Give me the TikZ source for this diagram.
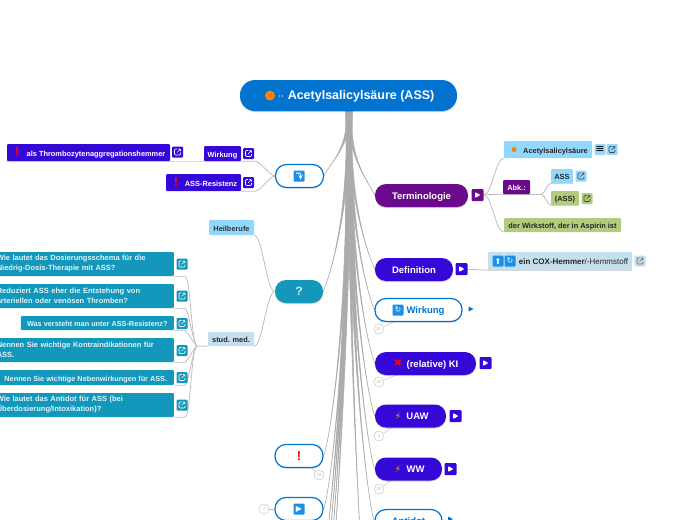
\documentclass[tikz,border=0pt]{standalone}
\usepackage{fontspec}
\setmainfont{Liberation Sans}
\newfontfamily\symfont{DejaVu Sans}
\usetikzlibrary{calc,backgrounds,shadows}
\definecolor{rootblue}{HTML}{0274D0}
\definecolor{indigo}{HTML}{3608D8}
\definecolor{teal}{HTML}{1398BC}
\definecolor{plum}{HTML}{6C0A8E}
\definecolor{sky}{HTML}{92D8FD}
\definecolor{olive}{HTML}{B2CB7E}
\definecolor{pale}{HTML}{C5DFEE}
\definecolor{emoji}{HTML}{1B90E6}
\definecolor{limbgrey}{HTML}{ABABAB}
\definecolor{twiggrey}{HTML}{BDBDBD}
\tikzset{
	topic/.style={rounded corners=11pt,minimum height=23pt,inner sep=0,text height=.72em,text depth=0pt,font=\bfseries\fontsize{9.5}{11}\selectfont,text=white,
		general shadow={fill=black,opacity=.18,shadow yshift=-1pt}},
	ring/.style={topic,draw=rootblue,line width=1.2pt,fill=white,text=rootblue},
	leaf/.style={rounded corners=1pt,inner sep=0,text height=.72em,text depth=0pt,font=\bfseries\fontsize{7.4}{8}\selectfont},
	ask/.style={rounded corners=1pt,fill=teal,text=white!88!teal,anchor=east,align=left,inner xsep=4pt,inner ysep=0,minimum height=24pt,text width=173pt,font=\bfseries\fontsize{7.5}{10}\selectfont},
	askline/.style={leaf,fill=teal,text=white!88!teal,anchor=east,font=\bfseries\fontsize{7.3}{8}\selectfont},
	linkbox/.style={rounded corners=1pt,minimum size=11pt,inner sep=0,path picture={
		\draw[#1,line width=.6pt,shift={(path picture bounding box.center)}] (-.5,-3) -- (-3,-3) -- (-3,3) -- (3,3) -- (3,.5) (-.5,.5) -- (3,-3) (.8,-3) -- (3,-3) -- (3,-.8);}},
	linkbox/.default=white,
	playbox/.style={rounded corners=1pt,minimum size=12pt,inner sep=0,path picture={
		\fill[white,shift={(path picture bounding box.center)}] (-2.5,-3) -- (3,0) -- (-2.5,3) -- cycle;}},
	emojibox/.style={rounded corners=1pt,fill=emoji,minimum size=11pt,inner sep=0,text=white,font=\symfont\fontsize{8}{8}\selectfont},
	badge/.style={circle,draw=twiggrey,line width=.4pt,fill=white,minimum size=10pt,inner sep=0,text=twiggrey,font=\fontsize{4.5}{5}\selectfont},
	limb/.style={fill=limbgrey,draw=limbgrey,line width=.5pt},
	twig/.style={draw=twiggrey,line width=.8pt},
	alert/.style={text=red,font=\bfseries\fontsize{13}{13}\selectfont},
}
% tapered branch out of the root
\newcommand\limb[4][3]{\fill[limb] ($(#2)+(-#1,0)$) .. controls ($(#2)!.6!(#2|-#3)$) and ($(#3)+(#4*6,-14)$) .. (#3) .. controls ($(#3)+(#4*6,-14)$) and ($(#2)!.6!(#2|-#3)$) .. ($(#2)+(#1,0)$) -- cycle;}
\begin{document}
\begin{tikzpicture}[x=1pt,y=-1pt]
\useasboundingbox (0,0) rectangle (697,520);

\node[topic,fill=rootblue,rounded corners=15pt,minimum width=217pt,minimum height=31pt,font=\bfseries\fontsize{12.5}{14}\selectfont] (root) at (348.5,95.5) {\hspace*{15pt}$\cdot\cdot$ Acetylsalicylsäure (ASS)};
\fill[orange] (270,95.5) circle (5);
\coordinate (hub) at (349,110);

% left side
\node[ring,minimum width=48pt] (turn) at (299.5,176) {};
\node[emojibox,path picture={\draw[white,line width=1pt,-stealth,shift={(path picture bounding box.center)}] (-3,-3) -- (1.5,-3) -- (1.5,3.5);}] (turnicon) at (299,176) {};
\node[leaf,fill=indigo,text=white,minimum width=37pt,minimum height=15pt] (wirkleft) at (222.5,153.5) {Wirkung};
\node[leaf,fill=indigo,text=white,minimum width=163pt,minimum height=17pt] (thrombo) at (88.5,152.5) {\hspace*{15pt}als Thrombozytenaggregationshemmer};
\node[leaf,fill=indigo,text=white,minimum width=75pt,minimum height=17pt] (resist) at (203.5,182.5) {\hspace*{15pt}ASS-Resistenz};
\node[alert] (marka) at (17,152.5) {!};
\node[alert] (markb) at (176,182.5) {!};

\node[leaf,fill=sky,text=black!80,minimum width=45pt,minimum height=15pt] (heil) at (231.5,227.5) {Heilberufe};
\node[topic,fill=teal,minimum width=48pt,text=white!80!teal,font=\bfseries\fontsize{12}{12}\selectfont] (quest) at (299,291.5) {?};
\node[leaf,fill=pale,text=black!85,minimum width=46pt,minimum height=14pt] (stud) at (231,339) {stud. med.};
\coordinate (fan) at (197,346);

\node[ask] (qa) at (174,264) {Wie lautet das Dosierungsschema für die\\Niedrig-Dosis-Therapie mit ASS?};
\node[ask] (qb) at (174,296) {Reduziert ASS eher die Entstehung von\\arteriellen oder venösen Thromben?};
\node[askline,minimum width=153pt,minimum height=14pt] (qc) at (174,323) {Was versteht man unter ASS-Resistenz?};
\node[ask] (qd) at (174,350) {Nennen Sie wichtige Kontraindikationen für\\ASS.};
\node[askline,minimum width=176pt,minimum height=15pt] (qe) at (174,377.5) {Nennen Sie wichtige Nebenwirkungen für ASS.};
\node[ask] (qf) at (174,405) {Wie lautet das Antidot für ASS (bei\\Überdosierung/Intoxikation)?};

\node[ring,minimum width=48pt] (warn) at (299,456) {};
\node[alert] (warnmark) at (299,456) {!};
\node[ring,minimum width=48pt] (play) at (299,509) {};
\node[emojibox] (playicon) at (299,509) {▶};

% right side
\node[topic,fill=plum,minimum width=93pt] (term) at (421.5,195.5) {Terminologie};
\node[playbox,fill=plum] (termplay) at (477.5,195) {};
\node[leaf,fill=sky,text=black!85,minimum width=88pt,minimum height=17pt] (acetyl) at (548,149.5) {\hspace*{15pt}Acetylsalicylsäure};
\fill[orange] (514,149.5) circle (2.5);
\node[leaf,fill=plum,text=white,minimum width=27pt,minimum height=14pt] (abk) at (516.5,187) {Abk.:};
\node[leaf,fill=sky,text=black!85,minimum width=22pt,minimum height=14pt] (short) at (562,176) {ASS};
\node[leaf,fill=olive,text=black!85,minimum width=28pt,minimum height=14pt] (shortb) at (565,198) {(ASS)};
\node[leaf,fill=olive,text=black!85,minimum width=117pt,minimum height=14pt] (stoff) at (562.5,225) {der Wirkstoff, der in Aspirin ist};
\node[rounded corners=1pt,fill=sky,minimum size=11pt,inner sep=0,font=\symfont\fontsize{11}{11}\selectfont] (listicon) at (600,149.5) {≡};

\node[topic,fill=indigo,minimum width=78pt] (defi) at (414,269.5) {Definition};
\node[playbox,fill=indigo] (defiplay) at (461.5,269) {};
\node[leaf,fill=pale,text=black!85,minimum width=144pt,minimum height=18pt,font=\fontsize{8}{9}\selectfont] (cox) at (560,261) {\hspace*{27pt}\textbf{ein COX-Hemmer}/-Hemmstoff};
\node[emojibox] (coxup) at (498,261) {⬆};
\node[emojibox] (coxcycle) at (510,261) {↻};

\node[ring,minimum width=87pt] (wirk) at (418.5,310) {\hspace*{14pt}Wirkung};
\node[emojibox] (wirkicon) at (398,310) {↻};
\node[topic,fill=indigo,minimum width=101pt] (ki) at (425.5,363.5) {\hspace*{14pt}(relative) KI};
\node[text=red,font=\symfont\bfseries\fontsize{10}{10}\selectfont] (kimark) at (398,363) {✖};
\node[playbox,fill=indigo] (kiplay) at (485.5,363) {};
\node[topic,fill=indigo,minimum width=71pt] (uaw) at (410.5,416) {\hspace*{14pt}UAW};
\node[text=orange!70!yellow,font=\symfont\fontsize{9}{9}\selectfont] (uawmark) at (398,416) {⚡};
\node[playbox,fill=indigo] (uawplay) at (455.5,416) {};
\node[topic,fill=indigo,minimum width=67pt] (ww) at (408.5,469) {\hspace*{14pt}WW};
\node[text=orange!70!yellow,font=\symfont\fontsize{9}{9}\selectfont] (wwmark) at (398,469) {⚡};
\node[playbox,fill=indigo] (wwplay) at (450.5,469) {};
\node[ring,minimum width=67pt] (anti) at (408.5,521) {Antidot};

% little arrows beside closed branches
\fill[rootblue] (468.5,306.5) -- (473.5,309) -- (468.5,311.5) -- cycle;
\fill[rootblue] (448,516.5) -- (453,519) -- (448,521.5) -- cycle;

% link boxes
\foreach \name/\x/\y in {lka/177.5/152,lkb/248.5/153.5,lkc/248.5/182.5}
	\node[linkbox,fill=indigo] (\name) at (\x,\y) {};
\foreach \name/\x/\y in {lkd/182/264,lke/182/296,lkf/182/323.5,lkg/182/350.5,lkh/182/377.5,lki/182/405}
	\node[linkbox,fill=teal] (\name) at (\x,\y) {};
\node[linkbox=black!75,fill=sky] (lkj) at (612,149.5) {};
\node[linkbox=black!75,fill=sky] (lkk) at (581,176) {};
\node[linkbox=black!75,fill=olive] (lkl) at (587,198.5) {};
\node[linkbox=black!60,fill=pale] (lkm) at (640,261) {};

% badges
\foreach \name/\x/\y/\txt in {bwirk/379/329/97,bki/379/382/42,buaw/379/436/2,bww/379/489/42,bwarn/319/475/16,bplay/264/509/7}
	\node[badge] (\name) at (\x,\y) {\txt};

\begin{pgfonlayer}{background}
\foreach \name/\x in {offa/324,offb/327,offc/330,offd/333,offe/362}
	\coordinate (\name) at (\x,570);
\foreach \name in {offa,offb,offc,offd} {
	\limb{hub}{\name}{0}
}
\limb[2]{hub}{offe}{0}
\limb{hub}{turn.east}{1}
\limb{hub}{quest.east}{1}
\limb{hub}{warn.east}{1}
\limb{hub}{play.east}{1}
\limb{hub}{term.west}{-1}
\limb{hub}{defi.west}{-1}
\limb{hub}{wirk.west}{-1}
\limb{hub}{ki.west}{-1}
\limb{hub}{uaw.west}{-1}
\limb{hub}{ww.west}{-1}
\limb{hub}{anti.west}{-1}

\draw[twig,white!85!black] (thrombo.south west) -- (wirkleft.south east);
\draw[twig] (wirkleft.south east) -- +(14,0) to[out=0,in=180,looseness=.5] (turn.west);
\draw[twig] (resist.south east) -- +(14,0) to[out=0,in=180,looseness=.5] (turn.west);
\draw[twig] (heil.south east) to[out=0,in=180,looseness=.35] (quest.west);
\draw[twig] (stud.south east) to[out=0,in=180,looseness=.35] (quest.west);
\draw[twig] (stud.south west) -- (fan);
\foreach \name in {qa,qb,qc,qd,qe,qf}
	\draw[twig,white!75!black] (\name.south east) -- +(11,0) to[out=0,in=180,looseness=.2] (fan);

\draw[twig] (termplay) to[out=0,in=180,looseness=.5] (acetyl.south west);
\draw[twig] (termplay) -- (abk.south west);
\draw[twig] (abk.south west) -- (abk.south east) -- +(11,0) coordinate (abkend);
\draw[twig] (abkend) to[out=0,in=180,looseness=.6] (short.south west) -- (short.south east);
\draw[twig] (abkend) to[out=0,in=180,looseness=.6] (shortb.south west) -- (shortb.south east);
\draw[twig] (termplay) to[out=0,in=180,looseness=.5] (stoff.south west);
\draw[twig] (defiplay) -- (cox.south west) -- (cox.south east);
\draw[twig,thin] (bwirk) -- (wirk);
\draw[twig,thin] (bki) -- (ki);
\draw[twig,thin] (buaw) -- (uaw);
\draw[twig,thin] (bww) -- (ww);
\draw[twig,thin] (bwarn) -- (warn);
\draw[twig,thin] (bplay) -- (play);
\end{pgfonlayer}
\end{tikzpicture}
\end{document}
